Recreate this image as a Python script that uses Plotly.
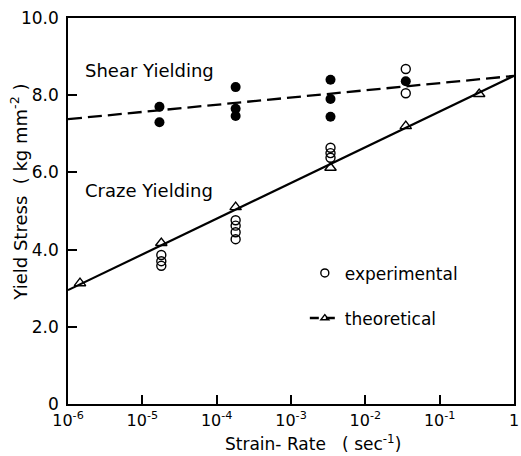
import plotly.graph_objects as go

# ---- data ----
shear_line_x = [1e-6, 1.0]
shear_line_y = [7.38, 8.5]

craze_line_x = [1e-6, 1.0]
craze_line_y = [2.95, 8.5]

theory_x = [1.45e-6, 1.8e-5, 1.8e-4, 3.4e-3, 3.5e-2, 0.34]
theory_y = [3.13, 4.17, 5.10, 6.12, 7.20, 8.03]

shear_exp_x = [1.7e-5, 1.7e-5, 1.8e-4, 1.8e-4, 1.8e-4, 3.4e-3, 3.4e-3, 3.4e-3, 3.5e-2]
shear_exp_y = [7.70, 7.30, 8.21, 7.65, 7.46, 8.40, 7.90, 7.44, 8.36]

craze_exp_x = [1.8e-5, 1.8e-5, 1.8e-5, 1.8e-4, 1.8e-4, 1.8e-4, 1.8e-4,
               3.4e-3, 3.4e-3, 3.4e-3, 3.5e-2, 3.5e-2]
craze_exp_y = [3.86, 3.70, 3.58, 4.76, 4.62, 4.45, 4.27,
               6.64, 6.50, 6.38, 8.68, 8.05]

x_tickvals = [1e-6, 1e-5, 1e-4, 1e-3, 1e-2, 1e-1, 1]
x_ticktext = ["10<sup>-6</sup>", "10<sup>-5</sup>", "10<sup>-4</sup>", "10<sup>-3</sup>",
              "10<sup>-2</sup>", "10<sup>-1</sup>", "1"]
y_tickvals = [0, 2, 4, 6, 8, 10]
y_ticktext = ["0", "2.0", "4.0", "6.0", "8.0", "10.0"]

FONT = "DejaVu Sans"
fig = go.Figure()

fig.add_trace(go.Scatter(x=shear_line_x, y=shear_line_y, mode="lines",
                         line=dict(color="black", width=2.3, dash="14px,6px"),
                         showlegend=False))
fig.add_trace(go.Scatter(x=craze_line_x, y=craze_line_y, mode="lines",
                         line=dict(color="black", width=2.2), showlegend=False))
fig.add_trace(go.Scatter(x=theory_x, y=theory_y, mode="markers",
                         marker=dict(symbol="triangle-up-open", size=10, color="black",
                                     line=dict(width=1.4)),
                         showlegend=False))
fig.add_trace(go.Scatter(x=shear_exp_x, y=shear_exp_y, mode="markers",
                         marker=dict(symbol="circle", size=10, color="black"),
                         showlegend=False))
fig.add_trace(go.Scatter(x=craze_exp_x, y=craze_exp_y, mode="markers",
                         marker=dict(symbol="circle-open", size=9, color="black",
                                     line=dict(width=1.4)),
                         showlegend=False))

# legend entries
fig.add_trace(go.Scatter(x=[None], y=[None], mode="markers", name="experimental",
                         legendgroup="a",
                         marker=dict(symbol="circle-open", size=8, color="black",
                                     line=dict(width=1.4))))
fig.add_trace(go.Scatter(x=[None], y=[None], mode="lines+markers", name="theoretical",
                         legendgroup="b",
                         line=dict(color="black", width=2.5, dash="9px,7px"),
                         marker=dict(symbol="triangle-up-open", size=7, color="black",
                                     line=dict(width=1.4))))

fig.add_annotation(x=-4.91, y=8.65, xref="x", yref="y", text="Shear Yielding",
                   showarrow=False, font=dict(size=18, color="black", family=FONT))
fig.add_annotation(x=-4.91, y=5.52, xref="x", yref="y", text="Craze Yielding",
                   showarrow=False, font=dict(size=18, color="black", family=FONT))

# axis titles
fig.add_annotation(x=-0.11, y=0.55, xref="paper", yref="paper",
                   text="Yield Stress  ( kg mm<sup>-2</sup> )", textangle=-90,
                   showarrow=False, xanchor="center", yanchor="middle",
                   font=dict(size=18, color="black", family=FONT))
fig.add_annotation(x=0.55, y=-0.1, xref="paper", yref="paper",
                   text="Strain- Rate   ( sec<sup>-1</sup>)",
                   showarrow=False, xanchor="center", yanchor="middle",
                   font=dict(size=17, color="black", family=FONT))

axis_common = dict(showgrid=False, zeroline=False, showline=True, linecolor="black",
                   linewidth=1.5, mirror=True, ticks="inside", tickcolor="black",
                   tickwidth=1.5, ticklen=9, ticklabeloverflow="allow")

fig.update_xaxes(type="log", range=[-6, 0], tickvals=x_tickvals, ticktext=x_ticktext,
                 ticklabelstandoff=1, tickfont=dict(size=16, color="black", family=FONT),
                 **axis_common)
fig.update_yaxes(range=[0, 10], tickvals=y_tickvals, ticktext=y_ticktext,
                 ticklabelstandoff=4, tickfont=dict(size=17, color="black", family=FONT),
                 **axis_common)

fig.update_layout(
    width=521, height=456,
    margin=dict(l=68, r=2, t=18, b=52),
    paper_bgcolor="white", plot_bgcolor="white",
    font=dict(family=FONT, color="black"),
    legend=dict(x=0.531, y=0.385, xanchor="left", yanchor="top",
                bgcolor="rgba(0,0,0,0)", tracegroupgap=20,
                font=dict(size=17, color="black", family=FONT)),
)

fig.write_html("out.html")
